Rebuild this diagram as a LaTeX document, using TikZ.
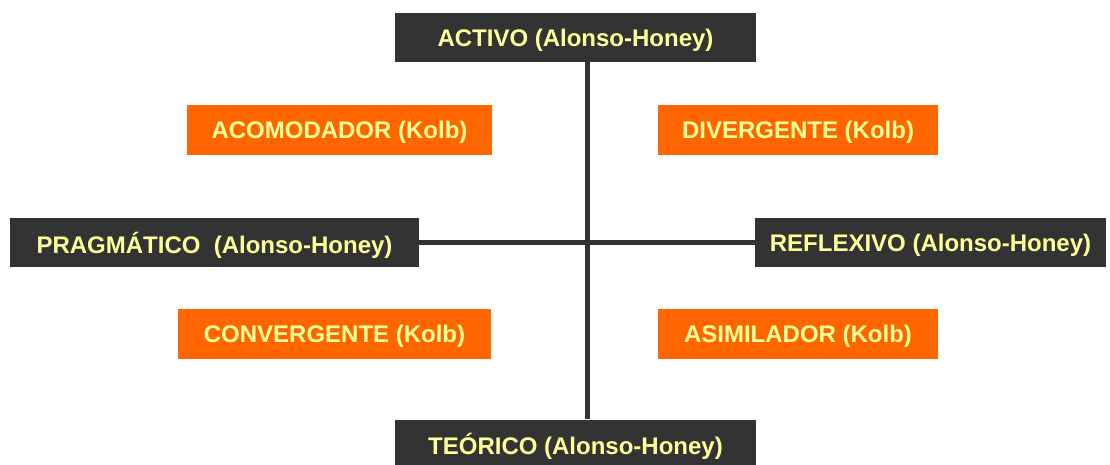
\documentclass[tikz,border=0pt]{standalone}
\usepackage{fontspec}
\setmainfont{Liberation Sans}
\usetikzlibrary{calc}
\definecolor{boxdark}{HTML}{333333}
\definecolor{boxorange}{HTML}{FF6600}
\definecolor{boxtext}{HTML}{FFFF99}
\begin{document}
\begin{tikzpicture}[x=1pt,y=-1pt,
    estilo/.style={fill=boxdark,text=boxtext,font=\fontsize{24}{26}\selectfont\bfseries,
        minimum height=49pt,inner sep=0pt,text depth=0pt},
    kolb/.style={fill=boxorange,text=boxtext,font=\fontsize{24}{26}\selectfont\bfseries,
        minimum height=50pt,inner sep=0pt,text depth=0pt},
    eje/.style={draw=boxdark,line width=5pt}]
            \useasboundingbox (0,0) rectangle (1110,464);
            \coordinate (cruce) at (587,242);

            \node[estilo,minimum width=361pt] (activo) at (575.5,37.5) {ACTIVO (Alonso-Honey)};
            \node[estilo,minimum width=409pt] (pragmatico) at (214.5,242.5) {PRAGMÁTICO\ \ (Alonso-Honey)};
            \node[estilo,minimum width=351pt] (reflexivo) at (930.5,242.5) {REFLEXIVO (Alonso-Honey)};
            \node[estilo,minimum width=361pt] (teorico) at (575.5,444) {TEÓRICO (Alonso-Honey)};

            \node[kolb,minimum width=305pt] (acomodador) at (339.5,130) {ACOMODADOR (Kolb)};
            \node[kolb,minimum width=280pt] (divergente) at (798,130) {DIVERGENTE (Kolb)};
            \node[kolb,minimum width=313pt] (convergente) at (334.5,334) {CONVERGENTE (Kolb)};
            \node[kolb,minimum width=280pt] (asimilador) at (798,334) {ASIMILADOR (Kolb)};

            \draw[eje](activo.south -| cruce)--(teorico.north -| cruce);
            \draw[eje](pragmatico.east |- cruce)--(reflexivo.west |- cruce);
        \end{tikzpicture}
\end{document}
